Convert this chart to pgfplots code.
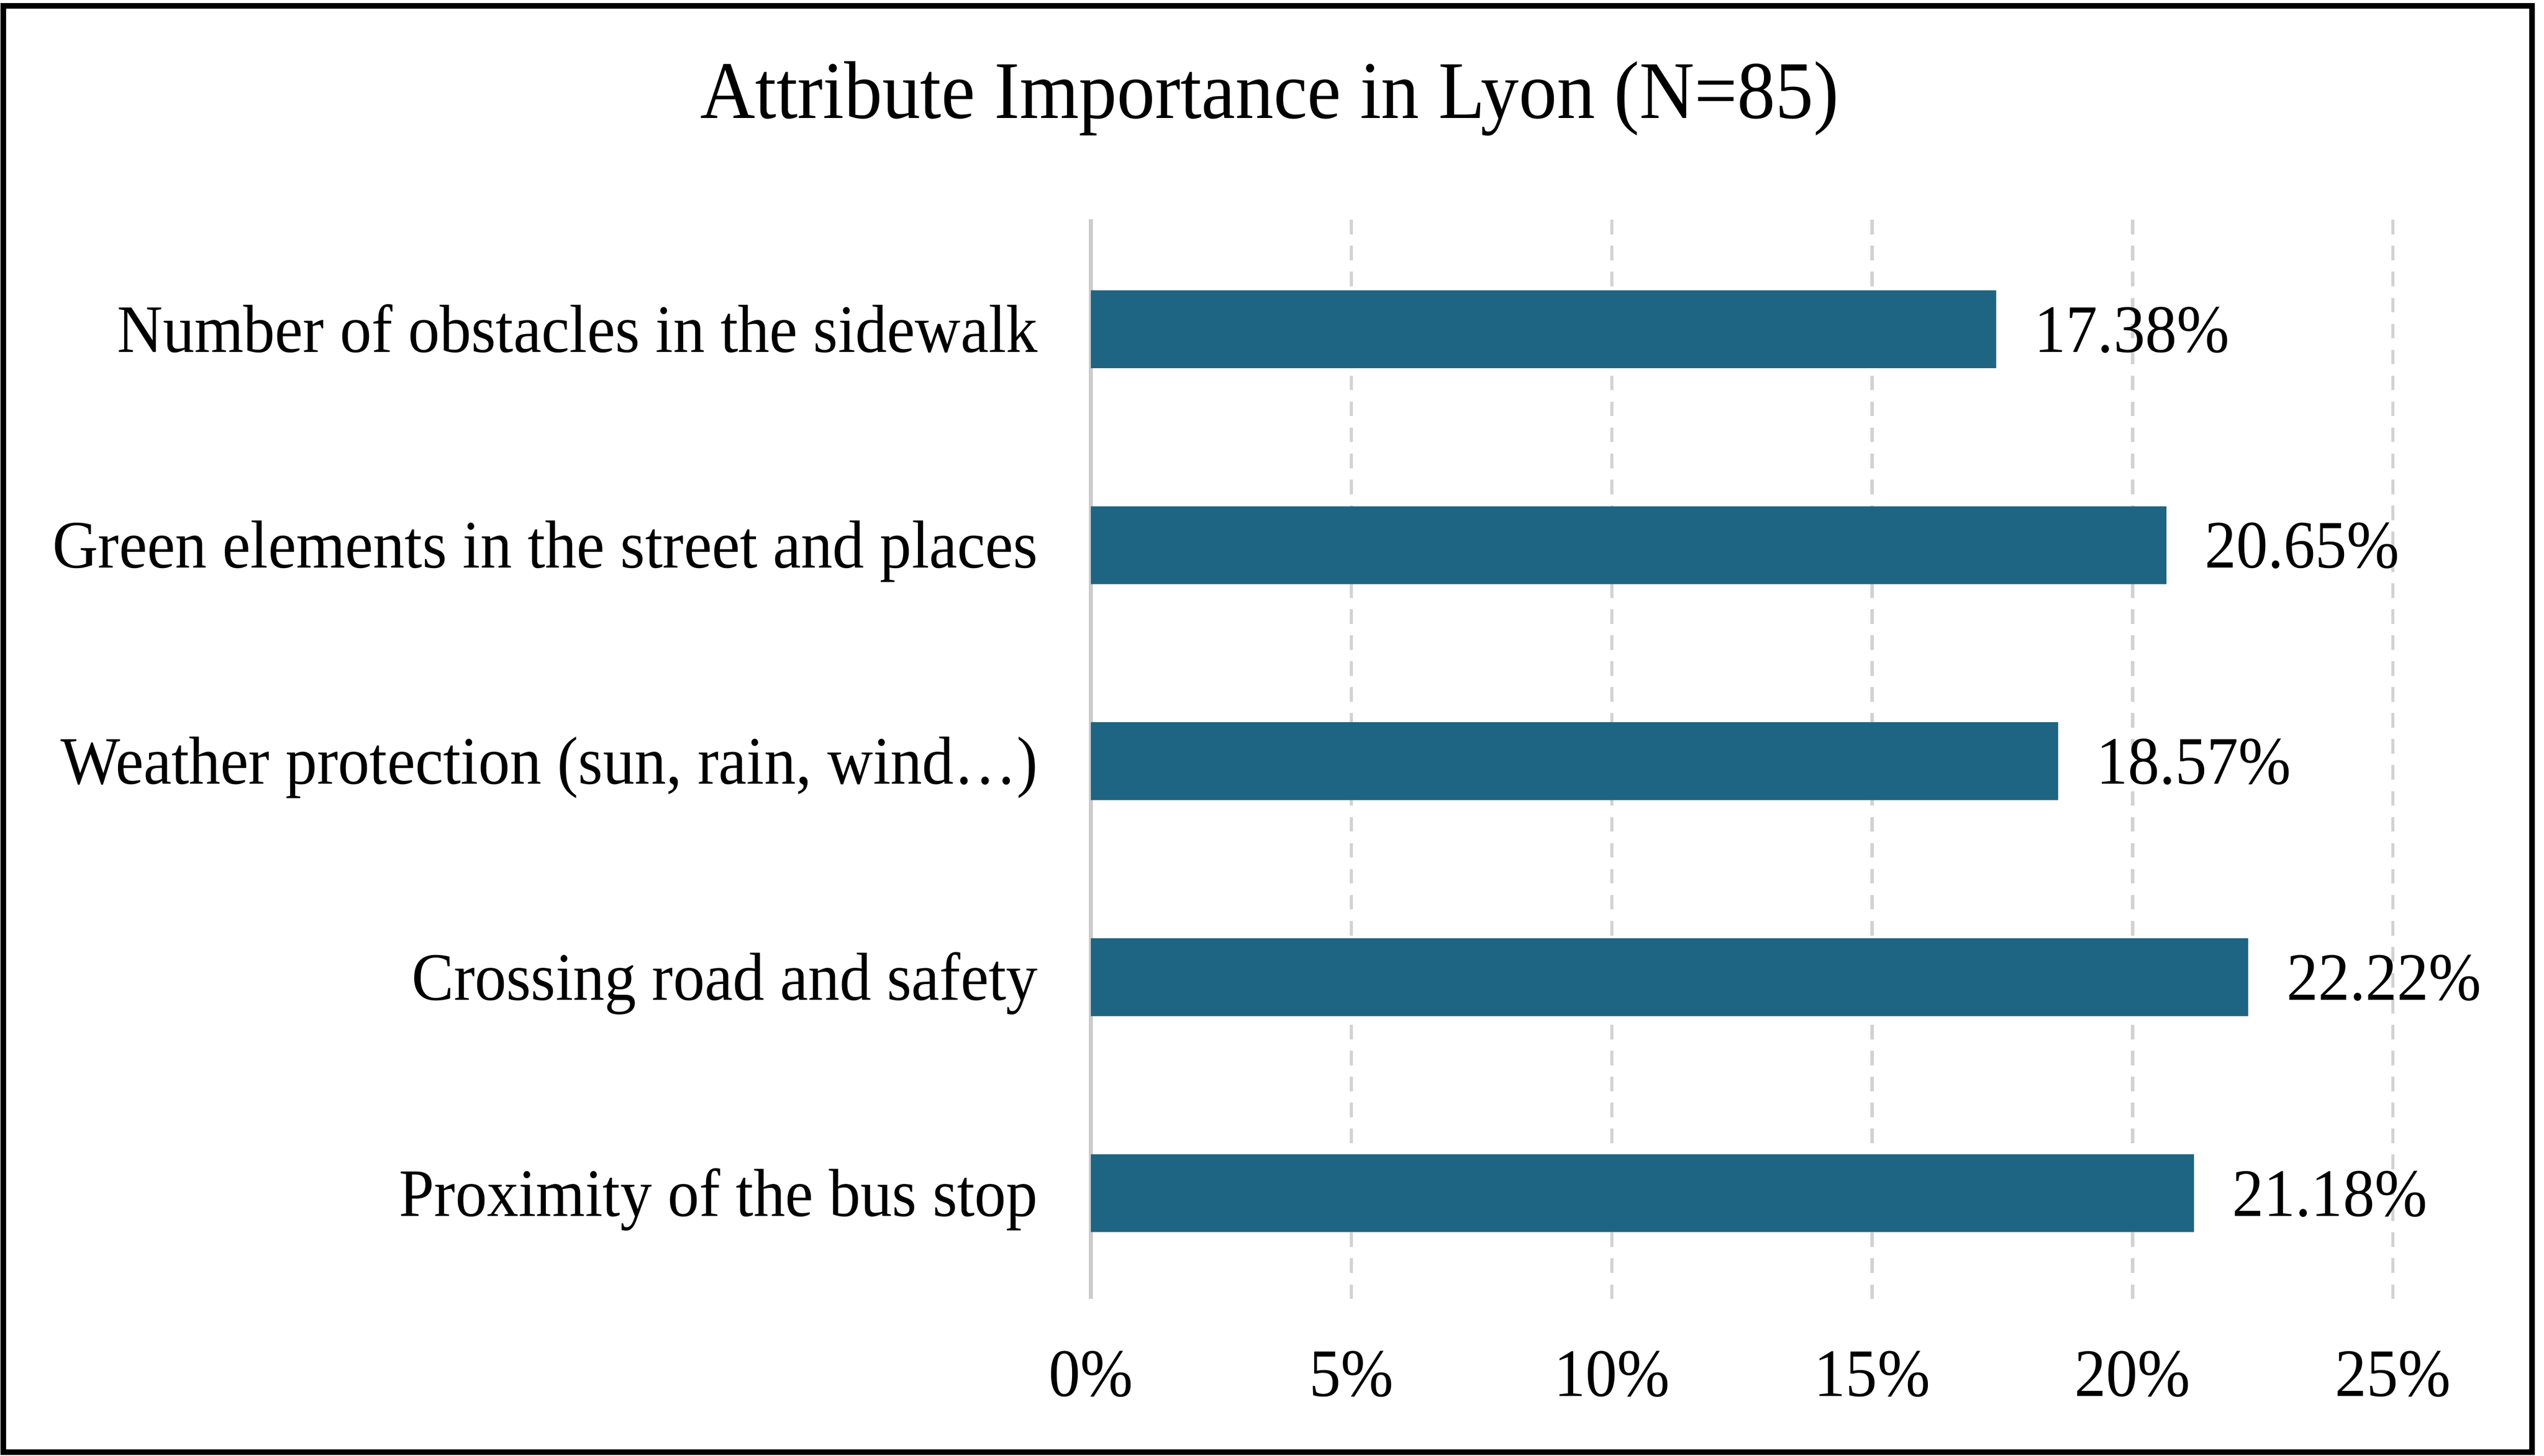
\documentclass[border=0pt]{standalone}
\usepackage{fontspec}
\setmainfont{Liberation Serif}[FakeStretch=0.93]
\usepackage{pgfplots}
\pgfplotsset{compat=1.18}
\definecolor{barc}{RGB}{30,101,131}
\newcommand{\lblfont}{\fontsize{11.9}{14}\selectfont}
\begin{document}
\begin{tikzpicture}
\useasboundingbox (0,0) rectangle (156.7mm,89.7mm);
\fill[white] (0,0) rectangle (156.7mm,89.7mm);
\begin{axis}[
 at={(67.2mm,9.65mm)}, anchor=south west,
 scale only axis, width=80.2mm, height=66.55mm,
 xbar, bar width=4.8mm,
 xmin=0, xmax=25, ymin=-0.49, ymax=4.51,
 xtick={0,5,10,15,20,25},
 xticklabels={0\%,5\%,10\%,15\%,20\%,25\%},
 ytick={0,1,2,3,4},
 yticklabels={Proximity of the bus stop, Crossing road and safety, {Weather protection (sun, rain, wind…)}, Green elements in the street and places, Number of obstacles in the sidewalk},
 axis lines=left, axis line style={-},
 x axis line style={draw=none},
 y axis line style={draw=gray!40, line width=0.25mm},
 tick style={draw=none},
 xmajorgrids, grid style={gray!35, line width=0.2mm, dash pattern=on 0.9mm off 0.7mm},
 tick label style={font=\lblfont, text height=8pt, text depth=0pt, inner sep=0pt},
 xticklabel style={anchor=north, yshift=-2.35mm},
 yticklabel style={anchor=east, xshift=-2.45mm},
 nodes near coords={\pgfplotspointmeta\%}, point meta=explicit symbolic,
 nodes near coords style={font=\lblfont, anchor=west, inner sep=0pt, xshift=2.3mm, text height=8pt, text depth=0pt, black},
 clip=false,
]
\addplot[fill=barc, draw=none] table[meta=lab] {
x y lab
21.18 0 21.18
22.22 1 22.22
18.57 2 18.57
20.65 3 20.65
17.38 4 17.38
};
\end{axis}
\node[anchor=base, font=\fontsize{14.35}{17}\selectfont] at (78.2mm,82.42mm) {Attribute Importance in Lyon (N=85)};
\draw[line width=0.35mm, black] (0.2mm,0.2mm) rectangle (155.95mm,89.35mm);
\end{tikzpicture}
\end{document}
